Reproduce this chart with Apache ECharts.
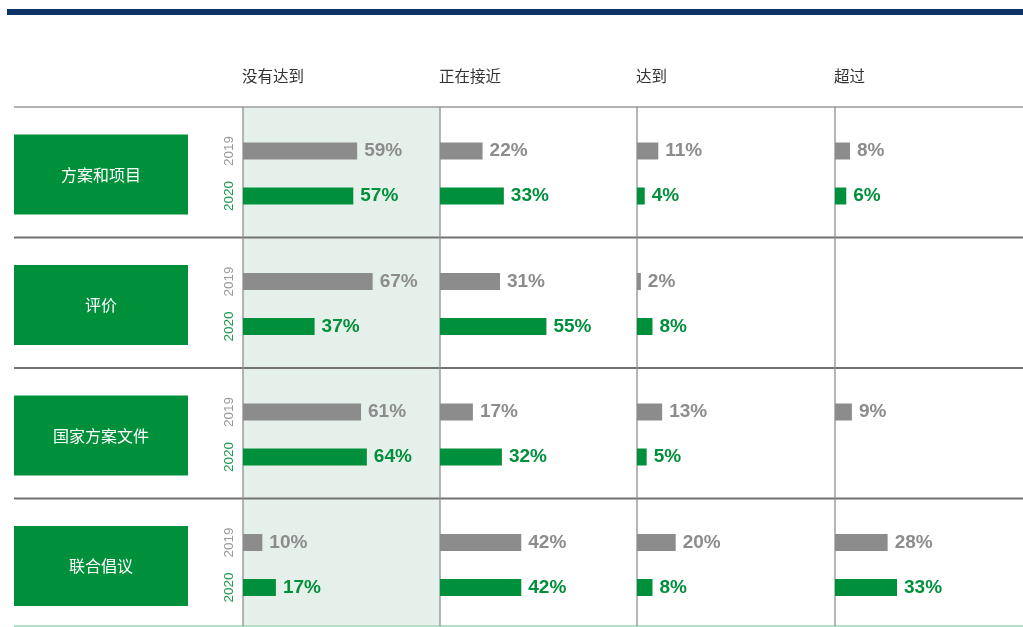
<!DOCTYPE html>
<html>
<head>
<meta charset="utf-8">
<script src="https://cdn.jsdelivr.net/npm/echarts@6/dist/echarts.min.js"></script>
<style>
  html, body { margin: 0; padding: 0; background: #fff; }
  #chart { width: 1023px; height: 627px; }
</style>
</head>
<body>
<div id="chart"></div>
<script>
// 数据
const categories = ['方案和项目', '评价', '国家方案文件', '联合倡议'];
const levels = ['没有达到', '正在接近', '达到', '超过'];
const years = ['2019', '2020'];
const values2019 = [
  [59, 22, 11, 8],
  [67, 31, 2, null],
  [61, 17, 13, 9],
  [10, 42, 20, 28]
];
const values2020 = [
  [57, 33, 4, 6],
  [37, 55, 8, null],
  [64, 32, 5, null],
  [17, 42, 8, 33]
];

// 布局
const colX = [243, 440, 637, 835];
const rowLineY = [107, 237.5, 368, 498.5];
const bottomY = 626;
const pxPerPct = 1.935;
const GRAY = '#8c8c8c';
const GREEN = '#008f3b';
const cjk = '"Noto Sans CJK SC", "Noto Sans", sans-serif';

let grids = [], xAxes = [], yAxes = [], series = [];
let idx = 0;
for (let r = 0; r < categories.length; r++) {
  for (let c = 0; c < levels.length; c++) {
    grids.push({
      left: colX[c], top: rowLineY[r] + 21.5,
      width: 100 * pxPerPct, height: 90,
      containLabel: false
    });
    xAxes.push({
      type: 'value', gridIndex: idx, min: 0, max: 100, show: false
    });
    yAxes.push({
      type: 'category', gridIndex: idx, data: years, inverse: true,
      axisLine: { show: false }, axisTick: { show: false },
      splitLine: { show: false },
      axisLabel: {
        show: c === 0, rotate: 90, margin: 7,
        fontSize: 13.5, fontFamily: '"Liberation Sans", Arial, sans-serif',
        color: function (v, i) { return i === 0 ? '#9a9a9a' : '#1f9a50'; }
      }
    });
    series.push({
      type: 'bar', xAxisIndex: idx, yAxisIndex: idx,
      barWidth: 17, z: 3,
      data: [
        { value: values2019[r][c], itemStyle: { color: GRAY }, label: { color: GRAY } },
        { value: values2020[r][c], itemStyle: { color: GREEN }, label: { color: GREEN } }
      ],
      label: {
        show: true, position: 'right', distance: 7,
        fontSize: 19, fontWeight: 'bold',
        fontFamily: '"Liberation Sans", Arial, sans-serif',
        formatter: function (p) { return p.value == null ? '' : p.value + '%'; }
      },
      silent: true
    });
    idx++;
  }
}

let graphics = [];
// 顶部深蓝条
graphics.push({ type: 'rect', shape: { x: 7, y: 9, width: 1016, height: 6 }, style: { fill: '#0c3466' }, z: 1 });
// 阴影列
graphics.push({ type: 'rect', shape: { x: colX[0], y: 107, width: colX[1] - colX[0], height: bottomY - 107 }, style: { fill: '#e6f0ea' }, z: 0 });
// 列标题
levels.forEach(function (t, i) {
  graphics.push({ type: 'text', x: colX[i] - 1, y: 76, style: { text: t, fill: '#333', font: '15.5px ' + cjk, textVerticalAlign: 'middle' }, z: 2 });
});
// 横线
graphics.push({ type: 'line', shape: { x1: 14, y1: 107, x2: 1023, y2: 107 }, style: { stroke: '#b3b3b3', lineWidth: 2 }, z: 2 });
for (let r = 1; r < rowLineY.length; r++) {
  graphics.push({ type: 'line', shape: { x1: 14, y1: rowLineY[r], x2: 1023, y2: rowLineY[r] }, style: { stroke: '#737373', lineWidth: 2 }, z: 2 });
}
graphics.push({ type: 'line', shape: { x1: 14, y1: bottomY, x2: 1023, y2: bottomY }, style: { stroke: '#b2dfc6', lineWidth: 2 }, z: 2 });
// 竖线
colX.forEach(function (x) {
  graphics.push({ type: 'line', shape: { x1: x, y1: 107, x2: x, y2: bottomY }, style: { stroke: '#8f8f8f', lineWidth: 1.3 }, z: 2 });
});
// 左侧绿色标签框
categories.forEach(function (t, r) {
  let y0 = rowLineY[r] + 27.5;
  graphics.push({ type: 'rect', shape: { x: 14, y: y0, width: 174, height: 80 }, style: { fill: '#008f3b' }, z: 2 });
  graphics.push({ type: 'text', x: 101, y: y0 + 40, style: { text: t, fill: '#fff', font: '16px ' + cjk, textAlign: 'center', textVerticalAlign: 'middle' }, z: 3 });
});

let myChart = echarts.init(document.getElementById('chart'));
myChart.setOption({
  animation: false,
  grid: grids,
  xAxis: xAxes,
  yAxis: yAxes,
  series: series,
  graphic: graphics
});
</script>
</body>
</html>
